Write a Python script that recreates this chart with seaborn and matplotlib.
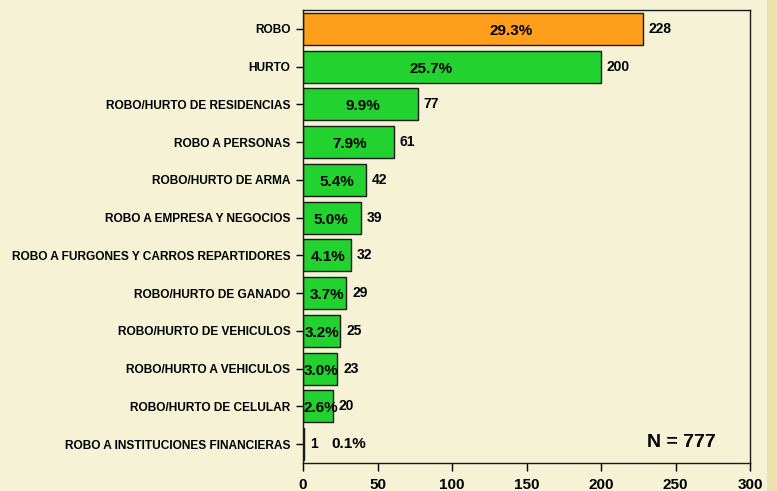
import matplotlib.pyplot as plt
import matplotlib.patches as mpatches
import pandas as pd
import seaborn as sns

categories = ['ROBO', 'HURTO', 'ROBO/HURTO DE RESIDENCIAS', 'ROBO A PERSONAS',
              'ROBO/HURTO DE ARMA', 'ROBO A EMPRESA Y NEGOCIOS',
              'ROBO A FURGONES Y CARROS REPARTIDORES', 'ROBO/HURTO DE GANADO',
              'ROBO/HURTO DE VEHICULOS', 'ROBO/HURTO A VEHICULOS',
              'ROBO/HURTO DE CELULAR', 'ROBO A INSTITUCIONES FINANCIERAS']
counts = [228, 200, 77, 61, 42, 39, 32, 29, 25, 23, 20, 1]
percents = ['29.3%', '25.7%', '9.9%', '7.9%', '5.4%', '5.0%', '4.1%', '3.7%',
            '3.2%', '3.0%', '2.6%', '0.1%']
# where each percentage label sits along x (data units), as in the original
pct_x = [140, 86, 40, 31, 23, 19, 17, 16, 13, 12, 12, 19]
total = 777

df = pd.DataFrame({'categoria': categories, 'n': counts, 'pct': percents})
palette = ['#FF9E1A'] + ['#22D22E'] * (len(categories) - 1)

bg = '#F5F2D6'
sns.set_style('white')
plt.rcParams['font.family'] = ['Liberation Sans', 'DejaVu Sans']
plt.rcParams['font.weight'] = 'bold'
plt.rcParams['text.color'] = 'black'
plt.rcParams['xtick.color'] = 'black'
plt.rcParams['ytick.color'] = 'black'

fig = plt.figure(figsize=(7.77, 4.91), dpi=100, facecolor=bg)
fig.patches.append(mpatches.Rectangle((767 / 777, 0), 10 / 777, 1, transform=fig.transFigure,
                                      facecolor='#EDE2AE', edgecolor='none', zorder=0))
ax = fig.add_axes([303 / 777, 1 - 463 / 491, 447 / 777, 453 / 491])
ax.set_facecolor(bg)

sns.barplot(data=df, x='n', y='categoria', hue='categoria', palette=palette, legend=False,
            orient='h', width=0.85, saturation=1, edgecolor='#1a1a1a', linewidth=1.0, ax=ax)

for i, (n, p, px) in enumerate(zip(counts, percents, pct_x)):
    ax.text(n + 4, i, str(n), ha='left', va='center', fontsize=10, fontweight='bold')
    if n > 5:
        ax.text(px, i + 0.05, p, ha='center', va='center', fontsize=11, fontweight='bold')
    else:
        ax.text(n + 18, i, p, ha='left', va='center', fontsize=11, fontweight='bold')

ax.text(0.924, 0.045, f'N = {total}', transform=ax.transAxes, ha='right', va='center',
        fontsize=14, fontweight='bold')

ax.set_xlim(0, 300)
ax.set_ylim(11.5, -0.5)
ax.set_xticks([0, 50, 100, 150, 200, 250, 300])
ax.set_xlabel('')
ax.set_ylabel('')
ax.tick_params(axis='x', labelsize=11, length=6, width=1, bottom=True, pad=5)
ax.tick_params(axis='y', labelsize=8.6, length=5, width=1, left=True, pad=4)
for lab in ax.get_xticklabels() + ax.get_yticklabels():
    lab.set_fontweight('bold')
for s in ax.spines.values():
    s.set_color('#1a1a1a')
    s.set_linewidth(1)

fig.savefig('out.png', dpi=100, facecolor=bg)
